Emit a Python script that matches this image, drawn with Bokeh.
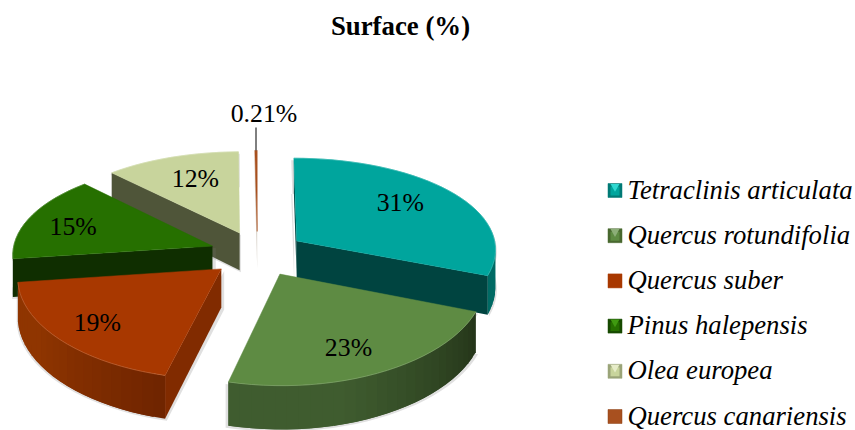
from math import sin, cos, radians
from bokeh.plotting import figure
from bokeh.models import Range1d
from bokeh.core.properties import value
from bokeh.embed import file_html
from bokeh.resources import INLINE

title = "Surface (%)"
species = ["Tetraclinis articulata", "Quercus rotundifolia", "Quercus suber",
           "Pinus halepensis", "Olea europea", "Quercus canariensis"]
surface = [31, 23, 19, 15, 12, 0.21]
labels = ["31%", "23%", "19%", "15%", "12%", "0.21%"]

top_colors = ["#00a59d", "#5e8b43", "#a83800", "#267000", "#c8d49c", "#a8501f"]
wall_colors = ["#004440", "#2c401f", "#812b00", "#0f2e00", "#4f5539", "#b5a898"]
arc_light = ["#006a64", "#3f5c2f", "#8f3500", "#1a4c00", "#6a7250", "#b5a898"]
arc_dark = ["#004440", "#25361a", "#702500", "#0f2e00", "#4f5539", "#b5a898"]
legend_light = ["#30d8d0", "#8cae78", "#a83800", "#3f9a10", "#e6ecc8", "#8a3f10"]
legend_edge = ["#007a75", "#48682f", "#a83800", "#174a00", "#9aa478", "#8a3f10"]
label_radius = [0.66, 0.72, 0.78, 0.77, 0.66]
label_dx = [0, -3.6, 0.5, 1.5, 2]
label_dy = [-5.5, 5, 0, 3, -2.6]

CX, CY, RX, RY = 257, 253, 200, 94.4
KX, KY = 0.08, 0.11
EXPLODE, DEPTH = 0.24, 38


def project(u, v, drop=0.0):
    sx = 1 / (1 + KX * v)
    sy = 1 / (1 + KY * v)
    return CX + RX * u * sx, CY - RY * v * sy + drop * sy


def mix(c1, c2, t):
    a = [int(c1[i:i + 2], 16) for i in (1, 3, 5)]
    b = [int(c2[i:i + 2], 16) for i in (1, 3, 5)]
    return "#%02x%02x%02x" % tuple(round(x + (y - x) * t) for x, y in zip(a, b))


total = sum(surface)
slices = []
start = 0.0
for i, val in enumerate(surface):
    sweep = val / total * 360
    mid = radians(start + sweep / 2)
    ox, oy = EXPLODE * sin(mid), EXPLODE * cos(mid)
    n = max(2, int(sweep / 3))
    arc = [(ox + sin(radians(start + sweep * k / n)), oy + cos(radians(start + sweep * k / n)))
           for k in range(n + 1)]
    slices.append(dict(i=i, ox=ox, oy=oy, mid=mid, arc=arc))
    start += sweep

p = figure(width=855, height=430, output_backend="svg", toolbar_location=None,
           x_range=Range1d(0, 855), y_range=Range1d(430, 0), min_border=0,
           outline_line_color=None, background_fill_color="white")
p.xaxis.visible = False
p.yaxis.visible = False
p.grid.visible = False

for s in sorted(slices, key=lambda a: -a["oy"]):
    i = s["i"]
    ring = [(s["ox"], s["oy"])] + s["arc"]
    top = [project(u, v) for u, v in ring]
    low = [project(u, v, DEPTH) for u, v in ring]

    # soft shadow round the whole block
    xs_all = [q[0] for q in top + low]
    mx = sum(xs_all) / len(xs_all)
    sil_x = [q[0] for q in top] + [q[0] for q in reversed(low)]
    sil_y = [q[1] for q in top] + [q[1] for q in reversed(low)]
    if i != 5:
        p.patch([mx + (x - mx) * 1.02 for x in sil_x], [y + 2 for y in sil_y],
                color="#707070", alpha=0.22, line_width=0)

    # side walls, only those that face the viewer
    m = len(ring)
    for k in range(m):
        a, b = k, (k + 1) % m
        if top[b][0] >= top[a][0]:
            continue
        radial = a == 0 or b == 0
        t = min(1.0, (k - 1) / max(1, (m - 2)) * 1.6)
        col = wall_colors[i] if radial else mix(arc_dark[i], arc_light[i], t)
        wx = [top[a][0], top[b][0], low[b][0], low[a][0]]
        wy = [top[a][1], top[b][1], low[b][1], low[a][1]]
        if not radial and k + 1 < m - 1:
            # run under the next quad so that no seam shows
            wx = [top[a][0], top[b + 1][0], low[b + 1][0], low[a][0]]
            wy = [top[a][1], top[b + 1][1], low[b + 1][1], low[a][1]]
        p.patch(wx, wy, fill_color=col, line_width=0, line_color=None,
                alpha=0.55 if i == 5 else 1.0)

    p.patch([q[0] for q in top], [q[1] for q in top], fill_color=top_colors[i],
            line_color=top_colors[i], line_width=0.5)
    p.line([q[0] for q in top[1:]], [q[1] for q in top[1:]],
           line_color=mix(top_colors[i], "#ffffff", 0.25), line_width=1, line_alpha=0.6)

# percentage labels
font = value("Liberation Serif")
for s in slices[:5]:
    j = s["i"]
    r = label_radius[j]
    x, y = project(s["ox"] + r * sin(s["mid"]), s["oy"] + r * cos(s["mid"]))
    p.text([x + label_dx[j]], [y + label_dy[j]], text=[labels[j]], text_font=font,
           text_font_size="25.8px", text_align="center", text_baseline="middle", text_color="black")

# small slice: leader line and label
s = slices[5]
lx, ly = project(s["ox"] + sin(s["mid"]), s["oy"] + cos(s["mid"]))
leader_x = int(lx) + 0.5
p.line([leader_x, leader_x], [ly, ly - 23], line_color="black", line_width=1)
p.text([lx + 8], [ly - 37], text=[labels[5]], text_font=font, text_font_size="25.8px",
       text_align="center", text_baseline="middle", text_color="black")

# title
p.text([400], [25], text=[title], text_font=font, text_font_size="26.8px",
       text_font_style="bold", text_align="center", text_baseline="middle", text_color="black")

# legend
LEG_Y0, LEG_DY = 190, 45.2
for i, name in enumerate(species):
    y = LEG_Y0 + i * LEG_DY
    p.scatter([614.5], [y], marker="square", size=14, fill_color=top_colors[i] if i in (2, 5) else legend_edge[i],
              line_color=legend_edge[i], line_width=0.5)
    if i not in (2, 5):
        p.scatter([614.5], [y + 0.5], marker="square", size=9, fill_color=top_colors[i], line_width=0)
        p.scatter([614.5], [y - 4], marker="inverted_triangle", size=9, fill_color=legend_light[i], line_width=0)
    p.text([627], [y - 1], text=[name], text_font=font, text_font_size="26.7px",
           text_font_style="italic", text_align="left", text_baseline="middle", text_color="black")

open("out.html", "w").write(file_html(p, INLINE))
